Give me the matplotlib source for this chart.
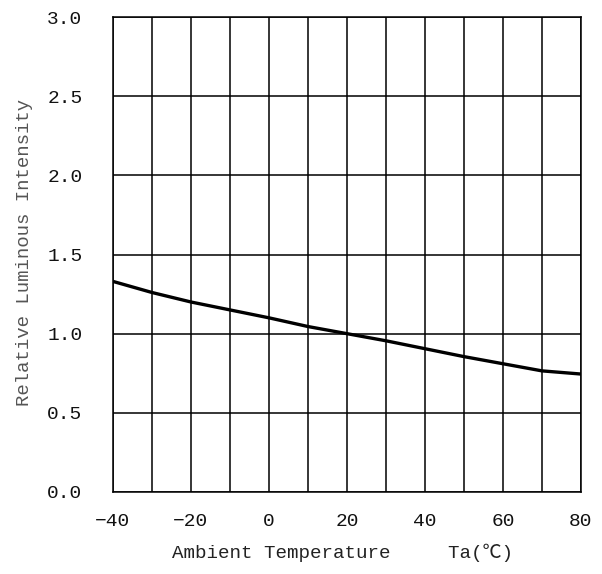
import matplotlib
matplotlib.use("Agg")
import matplotlib.pyplot as plt

# Relative luminous intensity vs ambient temperature
temperature = [-40, -30, -20, -10, 0, 10, 20, 30, 40, 50, 60, 70, 80]
intensity = [1.33, 1.26, 1.20, 1.15, 1.10, 1.045, 1.00, 0.955, 0.905, 0.855, 0.81, 0.765, 0.745]

x_ticks = [-40, -20, 0, 20, 40, 60, 80]
y_ticks = [0.0, 0.5, 1.0, 1.5, 2.0, 2.5, 3.0]
x_grid = list(range(-40, 81, 10))

plt.rcParams["font.family"] = ["Liberation Mono", "Noto Sans CJK SC"]

fig = plt.figure(figsize=(6.02, 5.74), dpi=100)
ax = fig.add_axes([113 / 602, 1 - 492 / 574, 468 / 602, 475 / 574])

for x in x_grid:
    ax.axvline(x, color="black", lw=1.1, zorder=1)
for y in y_ticks:
    ax.axhline(y, color="black", lw=1.1, zorder=1)

ax.plot(temperature, intensity, color="black", lw=2.4, zorder=3,
        solid_capstyle="butt")

ax.set_xlim(-40, 80)
ax.set_ylim(0, 3.0)
ax.set_xticks(x_ticks)
ax.set_xticklabels([str(t).replace("-", "\u2212") for t in x_ticks])
ax.set_yticks(y_ticks)
ax.set_yticklabels([f"{v:.1f}" for v in y_ticks])
ax.tick_params(length=0, labelsize=14, colors="#111111")
ax.tick_params(axis="x", pad=15)
ax.tick_params(axis="y", pad=22)
for s in ax.spines.values():
    s.set_linewidth(1.1)

fig.text(172 / 602, 1 - 553 / 574, "Ambient Temperature     Ta(\u2103)",
         ha="left", va="center", fontsize=13.8, color="#222222")
fig.text(25 / 602, 1 - 252 / 574, "Relative Luminous Intensity",
         rotation=90, ha="center", va="center", fontsize=13.7, color="#555555")

fig.savefig("out.png", dpi=100)
